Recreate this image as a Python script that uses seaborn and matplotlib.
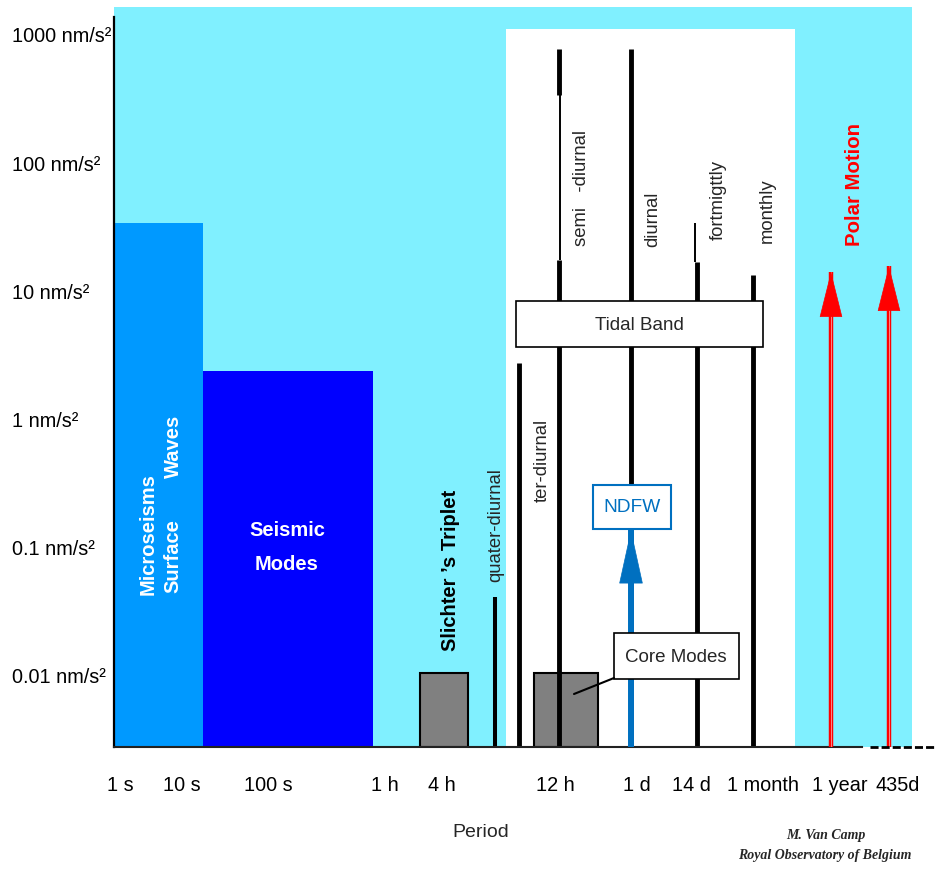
import matplotlib
matplotlib.use('Agg')
import matplotlib.pyplot as plt
from matplotlib.patches import Rectangle
from matplotlib.lines import Line2D
import seaborn as sns

# --- data -------------------------------------------------------------------
# x is a schematic "period position" (not a true scale), y is amplitude in nm/s²
period_labels = ['1 s', '10 s', '100 s', '1 h', '4 h', '12 h', '1 d', '14 d', '1 month', '1 year', '435d']
period_pos = [6, 68, 154, 271, 328, 441, 523, 577, 649, 726, 784]

amp_ticks = [1000, 100, 10, 1, 0.1, 0.01]
amp_labels = [f'{v:g} nm/s²' for v in amp_ticks]

# filled bands: start / end position and upper amplitude
band_names = ['Microseisms / Surface Waves', 'Seismic Modes', 'Tidal window', 'Slichter Triplet', 'Core Modes']
band_start = [0, 89, 392, 306, 420]
band_end = [89, 259, 681, 354, 484]
band_top = [34, 2.4, 1114, 0.0105, 0.0105]

# tidal lines
tide_names = ['quater-diurnal', 'ter-diurnal', 'semi-diurnal', 'diurnal', 'fortnightly', 'monthly']
tide_pos = [380.5, 404.5, 444.5, 516.5, 582.5, 638.5]
tide_top = [0.041, 2.76, 17.6, 778, 16.9, 13.4]

# thin upper extensions of semi-diurnal and fortnightly lines
ext_pos = [446, 581.3]
ext_bottom = [17.6, 16.9]
ext_top = [340, 34.2]
# upper thick cap of the semi-diurnal line
semi_cap = [340, 778]

# NDFW and polar motion arrows
ndfw_pos = 517
ndfw_top = 0.138
polar_pos = [717, 775]
polar_top = [14.2, 15.8]

amp_min, amp_max = 0.00279, 1652

# --- style --------------------------------------------------------------------
sns.set_theme(style='white')
plt.rcParams['font.family'] = ['Liberation Sans', 'DejaVu Sans']

W, H = 936, 872
fig = plt.figure(figsize=(W / 100, H / 100), dpi=100)


def fxy(px, py):
    # reference pixel -> figure fraction, used for annotations only
    return px / W, 1 - py / H


ax = fig.add_axes([114 / W, (H - 747) / H, 798 / W, 740 / H])
ax.set_facecolor('#80F0FF')
ax.set_yscale('log')
ax.set_xlim(0, 798)
ax.set_ylim(amp_min, amp_max)

band_colors = ['#0099FF', '#0000FF', 'white', '#808080', '#808080']
band_edges = ['none', 'none', 'none', 'black', 'black']
for s, e, t, c, ec in zip(band_start, band_end, band_top, band_colors, band_edges):
    ax.bar(s, t - amp_min, width=e - s, bottom=amp_min, align='edge',
           color=c, edgecolor=ec, linewidth=1.5 if ec != 'none' else 0, zorder=1)

widths = [2.9, 3.5, 3.5, 3.5, 3.5, 3.5]
for x, t, lw in zip(tide_pos, tide_top, widths):
    ax.vlines(x, amp_min, t, color='black', lw=lw, capstyle='butt', zorder=2)
ax.vlines(ext_pos, ext_bottom, ext_top, color='black', lw=1.4, capstyle='butt', zorder=2)
ax.vlines(tide_pos[2], semi_cap[0], semi_cap[1], color='black', lw=3.5, capstyle='butt', zorder=2)

# NDFW arrow
ax.vlines(ndfw_pos, amp_min, ndfw_top, color='#0070C0', lw=4.3, capstyle='butt', zorder=3)
ax.annotate('', xy=(ndfw_pos, ndfw_top), xytext=(0, -31), textcoords='offset points',
            arrowprops=dict(arrowstyle='-|>,head_length=3.1,head_width=0.68',
                            color='#0070C0', lw=0.5, shrinkA=0, shrinkB=0), zorder=4)

# polar motion arrows
for x, t in zip(polar_pos, polar_top):
    ax.vlines(x, amp_min, t, color='#FF0000', lw=3.2, capstyle='butt', zorder=3)
    ax.vlines(x, amp_min, t, color='#FF9A9A', lw=0.6, capstyle='butt', zorder=3)
    ax.annotate('', xy=(x, t), xytext=(0, -26), textcoords='offset points',
                arrowprops=dict(arrowstyle='-|>,head_length=2.6,head_width=0.65',
                                color='#FF0000', lw=0.5, shrinkA=0, shrinkB=0), zorder=4)

# axes
for side in ['top', 'right']:
    ax.spines[side].set_visible(False)
ax.spines['left'].set_color('black')
ax.spines['left'].set_linewidth(1.6)
ax.spines['left'].set_bounds(amp_min, 1381)
ax.spines['bottom'].set_color('#222222')
ax.spines['bottom'].set_linewidth(1.5)
ax.spines['bottom'].set_bounds(0, 748)
ax.plot([756, 822], [amp_min, amp_min], color='black', lw=2, dashes=(2.9, 1.1), clip_on=False, zorder=5)

ax.set_yticks(amp_ticks)
ax.set_yticklabels(amp_labels, fontsize=14.3, color='black')
ax.yaxis.set_minor_locator(matplotlib.ticker.NullLocator())
ax.tick_params(axis='y', length=0, pad=73.4)
for lab in ax.get_yticklabels():
    lab.set_horizontalalignment('left')
ax.set_xticks(period_pos)
ax.set_xticklabels(period_labels, fontsize=14.3, color='black')
ax.tick_params(axis='x', length=0, pad=21)
ax.grid(False)

# --- annotation boxes ----------------------------------------------------------
def box(px0, py0, px1, py1, ec='black', lw=1.2):
    x0, y1 = fxy(px0, py0)
    x1, y0 = fxy(px1, py1)
    fig.add_artist(Rectangle((x0, y0), x1 - x0, y1 - y0, transform=fig.transFigure,
                             facecolor='white', edgecolor=ec, lw=lw, zorder=2))

box(516, 301, 763, 347)
fig.text(*fxy(639, 325), 'Tidal Band', fontsize=13.5, ha='center', va='center', zorder=3)
box(593, 485, 671, 529, ec='#0070C0', lw=1.5)
fig.text(*fxy(632, 508), 'NDFW', fontsize=13.8, ha='center', va='center', color='#0070C0', zorder=3)
box(614, 633, 739, 679)
fig.text(*fxy(676, 657), 'Core Modes', fontsize=13.5, ha='center', va='center', zorder=3)
(px0, py0), (px1, py1) = fxy(614, 678), fxy(574, 694)
fig.add_artist(Line2D([px0, px1], [py0, py1], color='black', lw=1.5, transform=fig.transFigure, zorder=3))

# --- labels ---------------------------------------------------------------------
def vtext(px, py, s, **kw):
    fig.text(*fxy(px, py), s, rotation=90, ha='center', va='center', zorder=3, **kw)

vtext(148, 534, 'Microseisms', fontsize=14.5, fontweight='bold', color='white')
vtext(173, 556, 'Surface', fontsize=14.5, fontweight='bold', color='white')
vtext(173, 446, 'Waves', fontsize=14.5, fontweight='bold', color='white')
fig.text(*fxy(287, 530), 'Seismic', fontsize=14.5, fontweight='bold', color='white', ha='center', va='center')
fig.text(*fxy(287, 565), 'Modes', fontsize=14.5, fontweight='bold', color='white', ha='center', va='center')
vtext(450, 570, 'Slichter \u2019s Triplet', fontsize=14.5, fontweight='bold', color='black')
vtext(496, 525, 'quater-diurnal', fontsize=13.3)
vtext(542, 460, 'ter-diurnal', fontsize=13.3)
vtext(582, 188, 'semi   -diurnal', fontsize=13.3)
vtext(653, 219, 'diurnal', fontsize=13.3)
vtext(718, 200, 'fortmigttly', fontsize=13.3)
vtext(767, 211, 'monthly', fontsize=13.3)
vtext(854, 185, 'Polar Motion', fontsize=14.7, fontweight='bold', color='#FF0000')

fig.text(*fxy(481, 832), 'Period', fontsize=14, ha='center', va='center')
fig.text(*fxy(826, 835), 'M. Van Camp', fontsize=10, ha='center', va='center',
         family=['Liberation Serif', 'DejaVu Serif'], fontstyle='italic', fontweight='bold')
fig.text(*fxy(825, 855), 'Royal Observatory of Belgium', fontsize=10, ha='center', va='center',
         family=['Liberation Serif', 'DejaVu Serif'], fontstyle='italic', fontweight='bold')

fig.savefig('out.png', dpi=100)
